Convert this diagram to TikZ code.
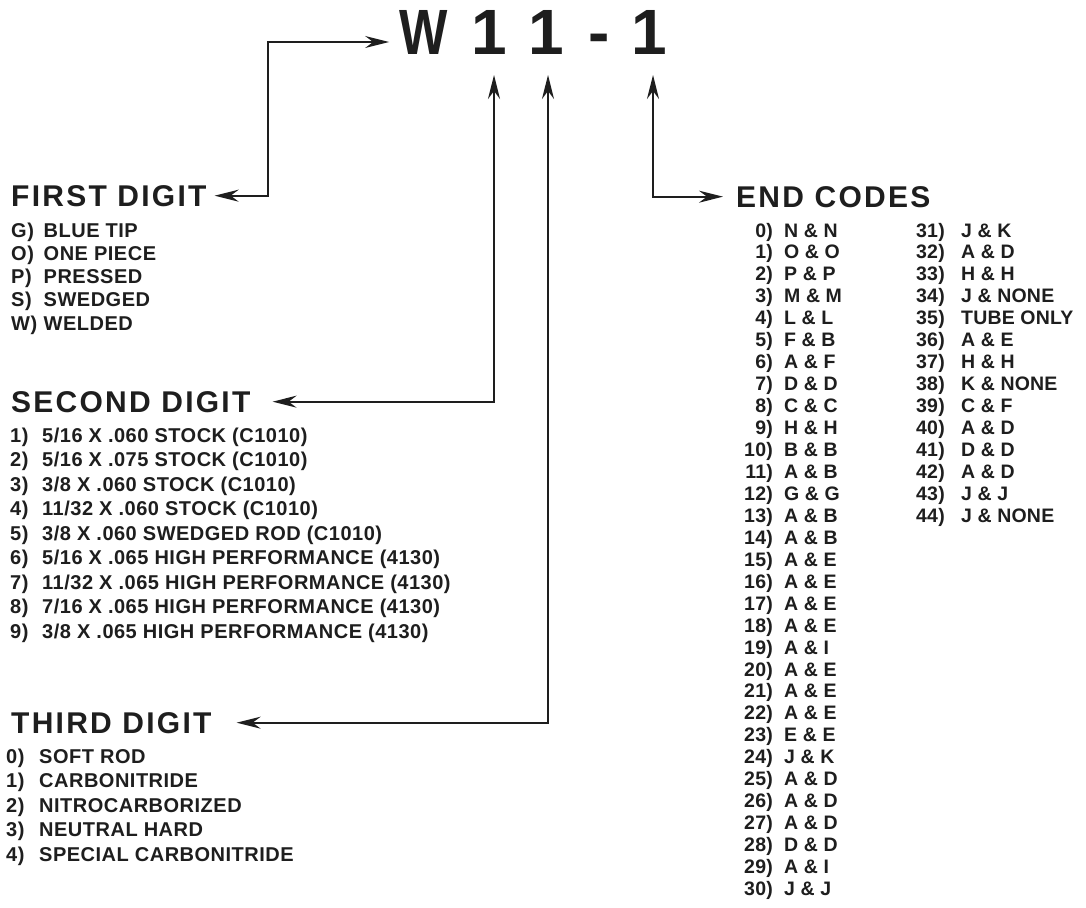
\documentclass[tikz,border=0pt]{standalone}
\usepackage{fontspec}
\setmainfont{Liberation Sans}
\newfontfamily\headfont[LetterSpace=7.5]{Liberation Sans}
\newfontfamily\listfont[LetterSpace=2.5]{Liberation Sans}
\newfontfamily\codefont[LetterSpace=1]{Liberation Sans}
\usetikzlibrary{arrows.meta}
\definecolor{ink}{HTML}{1E1E1E}
\begin{document}
\begin{tikzpicture}[x=1pt,y=-1pt,
  titlech/.style={font=\fontsize{64}{64}\selectfont\bfseries, inner sep=0, anchor=base, text=ink},
  head/.style={font=\headfont\fontsize{30}{30}\selectfont\bfseries, inner sep=0, anchor=base west, text=ink},
  item/.style={font=\listfont\fontsize{20}{20}\selectfont\bfseries, inner sep=0, anchor=base west, text=ink},
  code/.style={font=\codefont\fontsize{19.5}{19.5}\selectfont\bfseries, inner sep=0, text=ink},
  link/.style={draw=ink, line width=2pt, {Stealth[length=24pt,width=12pt,inset=8pt]}-{Stealth[length=24pt,width=12pt,inset=8pt]}}
]
\fill[white] (0,0) rectangle (1086,907);
\useasboundingbox (0,0) rectangle (1086,907);

% title
\node[titlech] (tW) at (423.5,55) {\scalebox{0.8}[1]{W}};
\node[titlech] (d1) at (489.5,55) {1};
\node[titlech] (d2) at (546,55) {1};
\node[titlech] (dh) at (599.5,55) {-};
\node[titlech] (d3) at (649.5,55) {1};

% headings
\node[head] (fh) at (11,206) {FIRST DIGIT};
\node[head] (sh) at (11,412) {SECOND DIGIT};
\node[head] (th) at (11,733) {THIRD DIGIT};
\node[head] (eh) at (736,207) {END CODES};

% first digit list
\foreach \n/\t [count=\i from 0] in {G)/BLUE TIP, O)/ONE PIECE, P)/PRESSED, S)/SWEDGED, W)/WELDED}{
  \node[item] (fn\i) at (11,237+23.3*\i) {\n};
  \node[item] (ft\i) at (43.5,237+23.3*\i) {\t};
}

% second digit list
\foreach \n/\t [count=\i from 0] in {
  1)/5{/}16 X .060 STOCK (C1010),
  2)/5{/}16 X .075 STOCK (C1010),
  3)/3{/}8 X .060 STOCK (C1010),
  4)/11{/}32 X .060 STOCK (C1010),
  5)/3{/}8 X .060 SWEDGED ROD (C1010),
  6)/5{/}16 X .065 HIGH PERFORMANCE (4130),
  7)/11{/}32 X .065 HIGH PERFORMANCE (4130),
  8)/7{/}16 X .065 HIGH PERFORMANCE (4130),
  9)/3{/}8 X .065 HIGH PERFORMANCE (4130)}{
  \node[item] (sn\i) at (10,442+24.5*\i) {\n};
  \node[item] (st\i) at (42,442+24.5*\i) {\t};
}

% third digit list
\foreach \n/\t [count=\i from 0] in {0)/SOFT ROD, 1)/CARBONITRIDE, 2)/NITROCARBORIZED, 3)/NEUTRAL HARD, 4)/SPECIAL CARBONITRIDE}{
  \node[item] (tn\i) at (6,763+24.5*\i) {\n};
  \node[item] (tt\i) at (39,763+24.5*\i) {\t};
}

% end codes, column 1
\foreach \t [count=\i from 0] in {N \& N, O \& O, P \& P, M \& M, L \& L, F \& B, A \& F, D \& D, C \& C, H \& H,
  B \& B, A \& B, G \& G, A \& B, A \& B, A \& E, A \& E, A \& E, A \& E, A \& I,
  A \& E, A \& E, A \& E, E \& E, J \& K, A \& D, A \& D, A \& D, D \& D, A \& I, J \& J}{
  \node[code, anchor=base east] (en\i) at (773,237+21.95*\i) {\i)};
  \node[code, anchor=base west] (et\i) at (784,237+21.95*\i) {\t};
}

% end codes, column 2
\foreach \t [count=\i from 31] in {J \& K, A \& D, H \& H, J \& NONE, TUBE ONLY, A \& E, H \& H, K \& NONE, C \& F, A \& D,
  D \& D, A \& D, J \& J, J \& NONE}{
  \node[code, anchor=base west] (en\i) at (916,237+21.95*\i-21.95*31) {\i)};
  \node[code, anchor=base west] (et\i) at (961,237+21.95*\i-21.95*31) {\t};
}

% connectors
\coordinate (c1) at (268,42);
\coordinate (u1) at (494,75);
\coordinate (u2) at (548,75);
\coordinate (u3) at (653,75);
\draw[link] ([xshift=-10pt]tW.west |- c1) -- (c1) |- ([xshift=8pt]fh.east);
\draw[link] (u1) |- ([xshift=22pt]sh.east);
\draw[link] (u2) |- ([xshift=25pt]th.east);
\draw[link] (u3) |- ([xshift=-13pt]eh.west);
\end{tikzpicture}
\end{document}
